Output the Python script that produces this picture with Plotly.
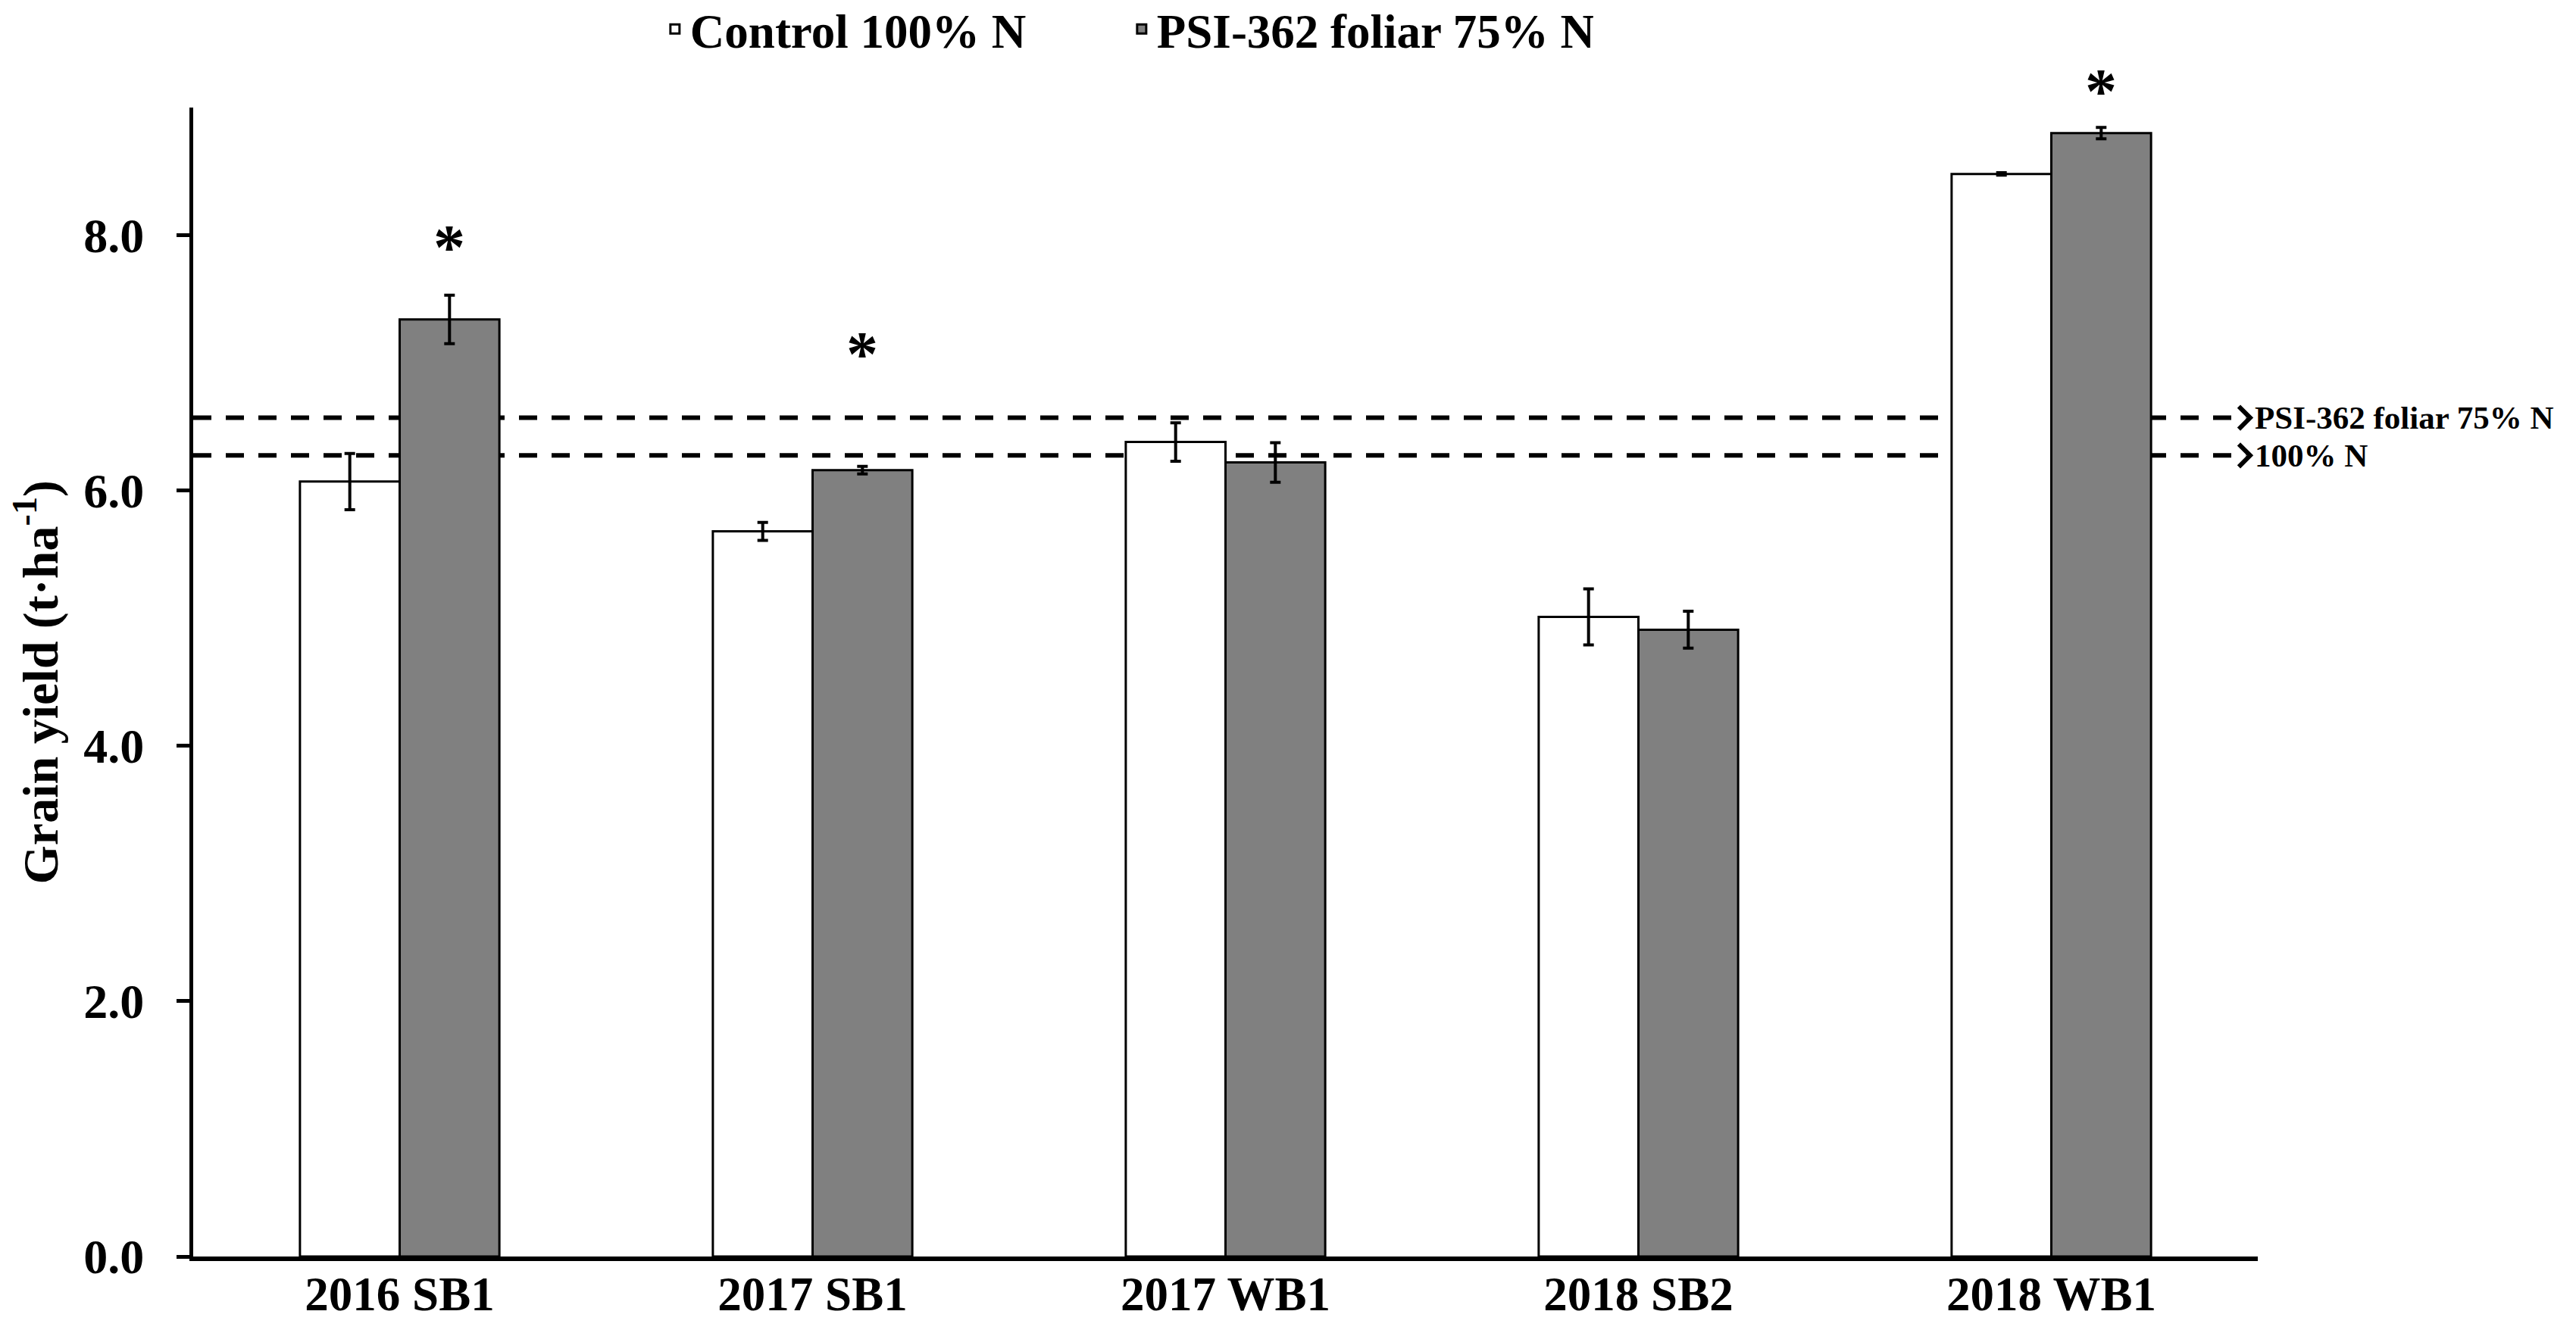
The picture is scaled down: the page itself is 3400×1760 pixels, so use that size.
import plotly.graph_objects as go

# values (t/ha)
sites = ['2016 SB1', '2017 SB1', '2017 WB1', '2018 SB2', '2018 WB1']
control_yield = [6.07, 5.68, 6.38, 5.01, 8.48]
control_err = [0.22, 0.07, 0.15, 0.22, 0.01]
psi_yield = [7.34, 6.16, 6.22, 4.91, 8.80]
psi_err = [0.19, 0.03, 0.155, 0.145, 0.045]

# mean lines across sites
mean_psi = 6.57
mean_control = 6.275

# significance marks above the PSI bars
star_sites = [0, 1, 4]
star_y = [7.93, 7.09, 9.15]

FONT = 'Liberation Serif'
BARGAP = 0.517
YMAX = 9

fig = go.Figure()

fig.add_trace(go.Bar(
    x=sites, y=control_yield, name='Control 100% N',
    marker=dict(color='white', line=dict(color='black', width=3)),
    error_y=dict(type='data', array=control_err, color='black', thickness=4, width=7),
))
fig.add_trace(go.Bar(
    x=sites, y=psi_yield, name='PSI-362 foliar 75% N',
    marker=dict(color='#808080', line=dict(color='black', width=3)),
    error_y=dict(type='data', array=psi_err, color='black', thickness=4, width=7),
))

# dashed mean lines under the bars, each ending in an open arrowhead and a label
tip = 0.9963
for val, label in [(mean_psi, 'PSI-362 foliar 75% N'), (mean_control, '100% N')]:
    fig.add_shape(type='line', xref='paper', yref='y', x0=0, x1=tip - 0.002, y0=val, y1=val,
                  line=dict(color='black', width=6, dash='24px,19px'), layer='below')
    fig.add_shape(type='path', xref='paper', yref='y',
                  xsizemode='pixel', ysizemode='pixel', xanchor=tip, yanchor=val,
                  path='M -15 -15 L 0 0 L -15 15', line=dict(color='black', width=6))
    fig.add_annotation(x=tip, y=val, xref='paper', yref='y', text=label, showarrow=False,
                       xanchor='left', yanchor='middle', xshift=4,
                       font=dict(family=FONT, size=43, color='black', weight='bold'))

# gray bar sits a quarter of the group width right of the category centre
offset = (1 - BARGAP) / 4
for i, yv in zip(star_sites, star_y):
    fig.add_annotation(x=i + offset, y=yv / YMAX, xref='x', yref='paper', text='*',
                       showarrow=False, yanchor='middle', yshift=-4,
                       font=dict(family=FONT, size=84, color='black', weight='bold'))

# y title placed as rotated text so it can sit close to the figure edge
fig.add_annotation(x=-0.0756, y=0.5, xref='paper', yref='paper', textangle=-90,
                   text='Grain yield (t·ha<sup>-1</sup>)', showarrow=False,
                   xanchor='center', yanchor='middle',
                   font=dict(family=FONT, size=66, color='black', weight='bold'))

fig.update_layout(
    width=3400, height=1760,
    margin=dict(l=247, r=428, t=134, b=109, autoexpand=False),
    plot_bgcolor='white', paper_bgcolor='white',
    barmode='group', bargap=BARGAP, bargroupgap=0,
    font=dict(family=FONT, color='black', weight='bold'),
    legend=dict(orientation='h', x=0.226, xanchor='left', y=1.0997, yanchor='top',
                font=dict(family=FONT, size=63, weight='bold'), entrywidth=571),
)
fig.update_xaxes(showline=True, linecolor='black', linewidth=6, ticks='',
                 tickfont=dict(family=FONT, size=63, weight='bold'), ticklabelstandoff=-11)
fig.update_yaxes(range=[0, YMAX], dtick=2, tick0=0, tickformat='.1f', showgrid=False,
                 zeroline=False, showline=True, linecolor='black', linewidth=5,
                 ticks='outside', ticklen=17, tickwidth=5, tickcolor='black',
                 tickfont=dict(family=FONT, size=64, weight='bold'), ticklabelstandoff=30)

fig.write_html('out.html')
